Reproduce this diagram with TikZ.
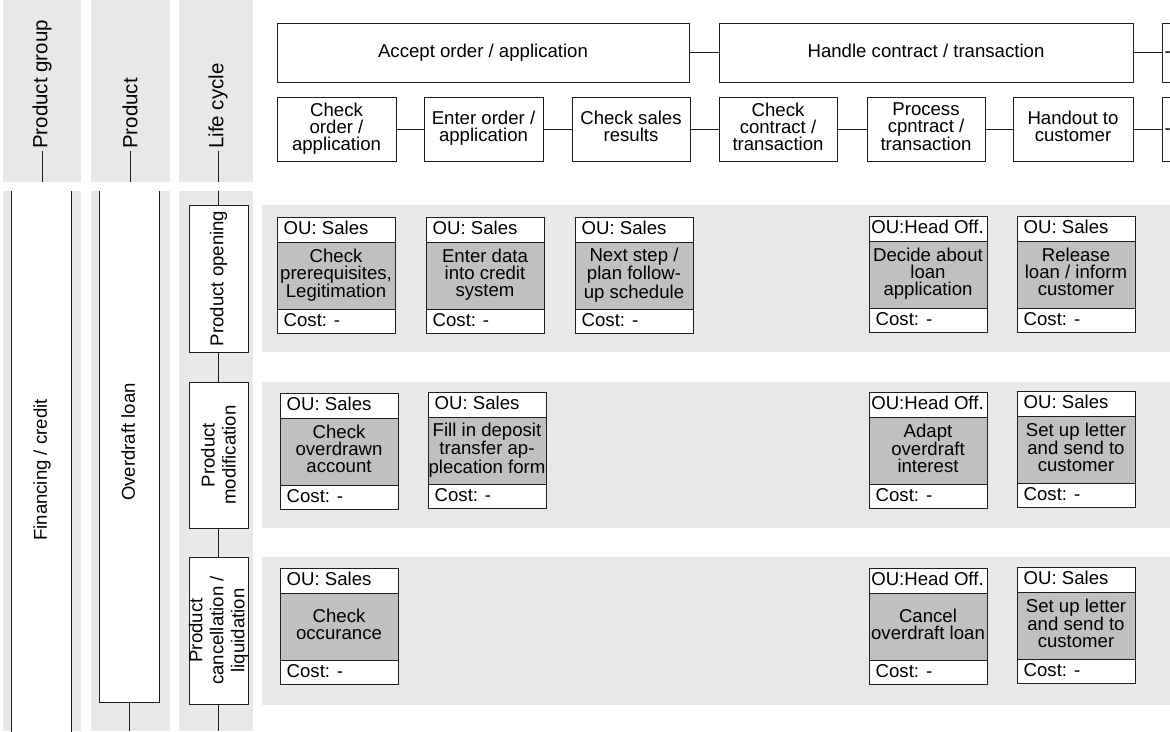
\documentclass[tikz,border=0pt]{standalone}
\usepackage{fontspec}
\setmainfont{Liberation Sans}
\usetikzlibrary{fit}
\definecolor{bgl}{HTML}{E8E8E8}
\definecolor{tgrey}{HTML}{C0C0C0}
\definecolor{linec}{HTML}{1E1E1E}
\newcommand\mainfs{\fontsize{18.6}{17}\selectfont}
\newcommand\lcfs{\fontsize{18.6}{21}\selectfont}
\newcommand\labfs{\fontsize{20.5}{20}\selectfont}
\newcommand\mystrut{\vrule width 0pt height 15pt depth 4.5pt\relax}
\tikzset{
  bgrect/.style={fill=bgl, draw=none},
  hbox/.style={draw=linec, line width=1pt, fill=white, inner sep=0pt},
  tbody/.style={draw=linec, line width=1pt, fill=tgrey, inner sep=0pt},
  tcell/.style={draw=linec, line width=1pt, fill=white, inner sep=0pt},
  txt/.style={inner sep=0pt, font=\mainfs, text=black, align=center,
    execute at begin node=\mystrut, execute at end node=\mystrut},
  lctxt/.style={inner sep=0pt, font=\lcfs, text=black, align=center, rotate=90},
  lab/.style={inner sep=2pt, font=\labfs, text=black},
  conn/.style={draw=linec, line width=1pt},
  edge/.style={draw=linec, line width=1pt},
}
% task box: name, x, y, OU text node options, OU text, body
\newcommand\task[6]{%
  \node[tcell, fit={(#2,#3)(#2+118,#3+25)}] (#1o) {};
  \node[tbody, fit={(#2,#3+25)(#2+118,#3+92)}] (#1) {};
  \node[tcell, fit={(#2,#3+92)(#2+118,#3+116)}] (#1c) {};
  \node[txt, #4] at (#1o.west) {#5};
  \node[txt] at (#1.center) {#6};
  \node[txt, anchor=west, xshift=7pt] at (#1c.west) {Cost: -};
}
% header box: name, x1, y1, x2, y2, text
\newcommand\hdr[6]{%
  \node[hbox, fit={(#2,#3)(#4,#5)}] (#1) {};
  \node[txt] at (#1.center) {#6};
}
\begin{document}
\begin{tikzpicture}[x=1pt,y=-1pt]
\useasboundingbox (0,0) rectangle (1170,731);
\clip (0,0) rectangle (1170,731);
\fill[white] (0,0) rectangle (1170,731);
% column backgrounds
\fill[bgrect] (3,0) rectangle (81,182);
\fill[bgrect] (91,0) rectangle (170,182);
\fill[bgrect] (179,0) rectangle (253,182);
\fill[bgrect] (3,191) rectangle (81,731);
\fill[bgrect] (91,191) rectangle (170,731);
\fill[bgrect] (179,191) rectangle (253,731);
% row backgrounds
\fill[bgrect] (262,205) rectangle (1170,352);
\fill[bgrect] (262,382) rectangle (1170,528);
\fill[bgrect] (262,557) rectangle (1170,705);

% column header labels
\node[lab, rotate=90, anchor=west] (pg) at (42,151) {Product group};
\node[lab, rotate=90, anchor=west] (pr) at (130,151) {Product};
\node[lab, rotate=90, anchor=west] (lc) at (218,151) {Life cycle};
\coordinate (pgb) at (42,182);
\coordinate (prb) at (130,182);
\coordinate (lcb) at (218,182);
\draw[conn] (pg.west) -- (pgb);
\draw[conn] (pr.west) -- (prb);
\draw[conn] (lc.west) -- (lcb);

% product group column
\node[fill=white, draw=none, inner sep=0pt, fit={(12,191)(71,735)}] (fin) {};
\draw[edge] (fin.north west) -- (fin.south west);
\draw[edge] (fin.north east) -- (fin.south east);
\node[txt, rotate=90] at (41.5,470) {Financing / credit};

% product column
\node[fill=white, draw=none, inner sep=0pt, fit={(100,191)(159,702)}] (ovl) {};
\draw[edge] (ovl.north west) -- (ovl.south west) -- (ovl.south east) -- (ovl.north east);
\node[txt, rotate=90] at (129.5,442) {Overdraft loan};
\coordinate (ovlb) at (129.5,731);
\draw[conn] (ovl.south) -- (ovlb);

% life cycle column
\coordinate (lct) at (218.5,191);
\coordinate (lcbot) at (218.5,731);
\node[hbox, fit={(189,205)(248,352)}] (po) {};
\node[hbox, fit={(189,382)(248,528)}] (pm) {};
\node[hbox, fit={(189,557)(248,704)}] (pc) {};
\node[lctxt] at (po.center) {Product opening};
\node[lctxt] at (pm.center) {Product\\modification};
\node[lctxt] at (pc.center) {Product\\cancellation /\\liquidation};
\draw[conn] (lct) -- (po.north);
\draw[conn] (po.south) -- (pm.north);
\draw[conn] (pm.south) -- (pc.north);
\draw[conn] (pc.south) -- (lcbot);

% process header, top row
\hdr{acc}{277}{23}{689}{82}{Accept order / application}
\hdr{hand}{719}{23}{1133}{82}{Handle contract / transaction}
\node[hbox, fit={(1162,23)(1320,82)}] (nxt) {};
\node[txt, anchor=west] at (1164.5,52) {-};
\draw[conn] (acc) -- (hand);
\draw[conn] (hand) -- (nxt);

% process header, second row
\hdr{s1}{277}{97}{396}{161}{Check\\order /\\application}
\hdr{s2}{424}{97}{543}{161}{Enter order /\\application}
\hdr{s3}{572}{97}{690}{161}{Check sales\\results}
\hdr{s4}{719}{97}{837}{161}{Check\\contract /\\transaction}
\hdr{s5}{867}{97}{985}{161}{Process\\cpntract /\\transaction}
\hdr{s6}{1013}{97}{1133}{161}{Handout to\\customer}
\node[hbox, fit={(1162,97)(1320,161)}] (s7) {};
\node[txt, anchor=west] at (1164.5,129) {-};
\draw[conn] (s1) -- (s2);
\draw[conn] (s2) -- (s3);
\draw[conn] (s3) -- (s4);
\draw[conn] (s4) -- (s5);
\draw[conn] (s5) -- (s6);
\draw[conn] (s6) -- (s7);

% row 1: product opening
\task{a1}{277}{217}{anchor=west, xshift=7pt}{OU: Sales}{Check\\prerequisites,\\Legitimation}
\task{a2}{426}{217}{anchor=west, xshift=7pt}{OU: Sales}{Enter data\\into credit\\system}
\task{a3}{575}{217}{anchor=west, xshift=7pt}{OU: Sales}{Next step /\\plan follow-\\up schedule}
\task{a4}{869}{216}{anchor=center, xshift=59pt}{OU:Head Off.}{Decide about\\loan\\application}
\task{a5}{1017}{216}{anchor=west, xshift=7pt}{OU: Sales}{Release\\loan / inform\\customer}

% row 2: product modification
\task{b1}{280}{393}{anchor=west, xshift=7pt}{OU: Sales}{Check\\overdrawn\\account}
\task{b2}{428}{392}{anchor=west, xshift=7pt}{OU: Sales}{Fill in deposit\\transfer ap-\\plecation form}
\task{b4}{869}{392}{anchor=center, xshift=59pt}{OU:Head Off.}{Adapt\\overdraft\\interest}
\task{b5}{1017}{391}{anchor=west, xshift=7pt}{OU: Sales}{Set up letter\\and send to\\customer}

% row 3: product cancellation
\task{c1}{280}{568}{anchor=west, xshift=7pt}{OU: Sales}{Check\\occurance}
\task{c4}{869}{568}{anchor=center, xshift=59pt}{OU:Head Off.}{Cancel\\overdraft loan}
\task{c5}{1017}{567}{anchor=west, xshift=7pt}{OU: Sales}{Set up letter\\and send to\\customer}
\end{tikzpicture}
\end{document}
